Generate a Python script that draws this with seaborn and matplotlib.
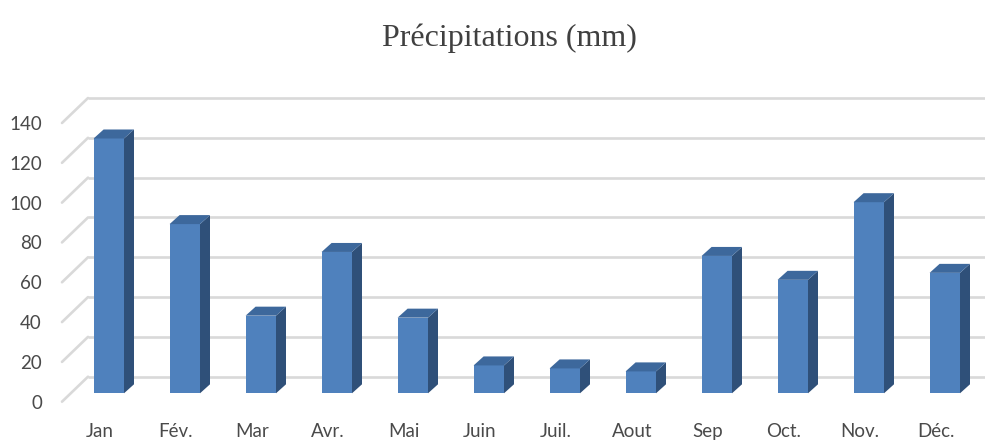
import numpy as np
import pandas as pd
import matplotlib
matplotlib.use("Agg")
import matplotlib.pyplot as plt
import matplotlib.transforms as mtransforms
from matplotlib.patches import Polygon
import seaborn as sns

# ---- data ----
months = ["Jan", "Fév.", "Mar", "Avr.", "Mai", "Juin", "Juil.", "Aout",
          "Sep", "Oct.", "Nov.", "Déc."]
precip = [128, 85, 39, 71, 38, 14, 12.5, 11, 69, 57, 96, 60.5]
yticks = [0, 20, 40, 60, 80, 100, 120, 140]
title = "Précipitations (mm)"

sns.set_theme(style="white")
plt.rcParams["font.family"] = ["Lato", "DejaVu Sans"]

W, H, DPI = 985, 441, 100
fig = plt.figure(figsize=(W / DPI, H / DPI), dpi=DPI)
fig.patch.set_facecolor("white")

# front-edge plane of the pseudo-3D box
ax_l, ax_b, ax_w, ax_h = 62, 39.3, 912, 278.7
ax = fig.add_axes([ax_l / W, ax_b / H, ax_w / W, ax_h / H])
ax.set_facecolor("none")

df = pd.DataFrame({"month": months, "value": precip})
front_col = "#4F81BD"
side_col = "#2F5079"
top_col = "#3D689C"
sns.barplot(data=df, x="month", y="value", color=front_col, saturation=1,
            width=0.4, ax=ax, zorder=3, linewidth=0)

ax.set_xlim(-0.5, len(months) - 0.5)
ax.set_ylim(0, 140)
px_x = ax_w / len(months)        # pixels per category
px_y = ax_h / 140.0              # pixels per unit

# offsets (pixels) : bar front face behind front edge, back wall, bar depth
face_off = (8.8, 8.4)
wall_off = (26, 25)
depth = (10, 9)

face_tr = mtransforms.offset_copy(ax.transData, fig=fig, x=face_off[0], y=face_off[1], units="dots")
wall_tr = mtransforms.offset_copy(ax.transData, fig=fig, x=wall_off[0], y=wall_off[1], units="dots")

grid_col = "#D9D9D9"
# back wall gridlines + side wall diagonals
for yv in yticks:
    ax.plot([-0.5, len(months) + 1], [yv, yv], transform=wall_tr, color=grid_col,
            lw=1.9, clip_on=False, zorder=1, solid_capstyle="butt")
    ax.plot([-0.5, -0.5 + wall_off[0] / px_x], [yv, yv + wall_off[1] / px_y],
            color=grid_col, lw=1.9, clip_on=False, zorder=1)

ddx = depth[0] / px_x
ddy = depth[1] / px_y
for p in list(ax.patches):
    p.set_transform(face_tr)
    p.set_clip_on(False)
    x, w, h = p.get_x(), p.get_width(), p.get_height()
    side = Polygon([(x + w, 0), (x + w + ddx, ddy), (x + w + ddx, h + ddy), (x + w, h)],
                   closed=True, facecolor=side_col, edgecolor="none",
                   transform=face_tr, zorder=3, clip_on=False)
    top = Polygon([(x, h), (x + ddx, h + ddy), (x + w + ddx, h + ddy), (x + w, h)],
                  closed=True, facecolor=top_col, edgecolor="none",
                  transform=face_tr, zorder=3, clip_on=False)
    ax.add_patch(side)
    ax.add_patch(top)

for s in ax.spines.values():
    s.set_visible(False)
ax.set_xlabel("")
ax.set_ylabel("")
ax.set_yticks(yticks)
ax.set_yticklabels([str(v) for v in yticks])
lab_col = "#4A4A4A"
ax.tick_params(axis="y", length=0, pad=14.4, labelsize=13.5, labelcolor=lab_col)
ax.tick_params(axis="x", length=0, pad=15.5, labelsize=13.5, labelcolor=lab_col)
ax.grid(False)

fig.text(509.5 / W, 1 - 46 / H, title, ha="center", va="baseline",
         fontsize=23, color="#404040", family=["Liberation Serif", "DejaVu Serif"])

fig.savefig("out.png", dpi=DPI, facecolor="white")
